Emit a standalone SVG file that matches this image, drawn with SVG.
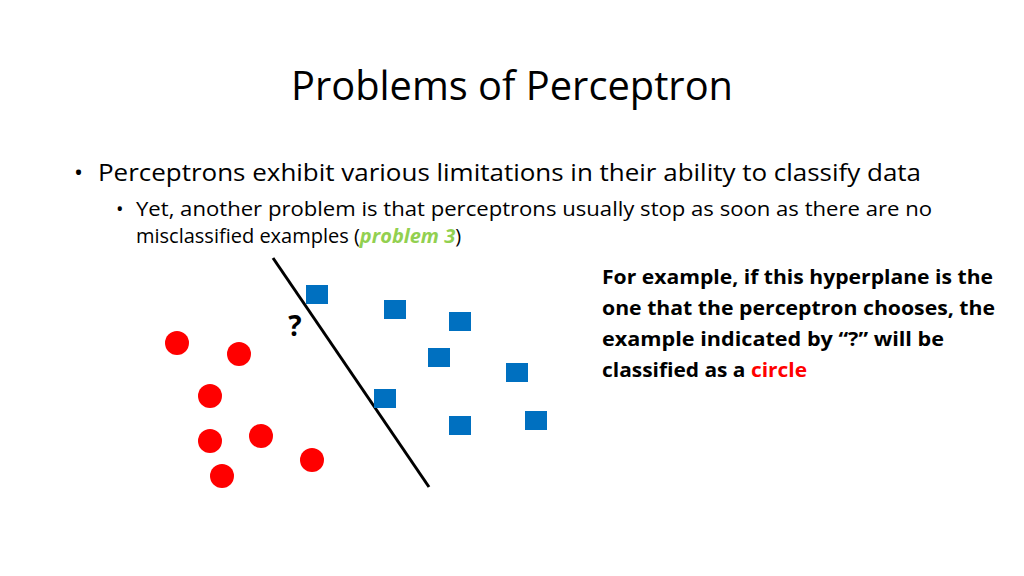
<svg xmlns="http://www.w3.org/2000/svg" width="1024" height="576" viewBox="0 0 1024 576">
<style>
text{font-family:"Open Sans","Liberation Sans",sans-serif;fill:#000}
.c{fill:#FF0000}
.s{fill:#0070C0}
.r{font-weight:bold;font-size:20px}
</style>
<rect width="1024" height="576" fill="#fff"/>
<text x="512" y="100" font-size="40" text-anchor="middle" textLength="442" lengthAdjust="spacingAndGlyphs">Problems of Perceptron</text>
<text x="74" y="181" font-size="24">•</text>
<text x="98" y="181" font-size="24" textLength="823" lengthAdjust="spacingAndGlyphs">Perceptrons exhibit various limitations in their ability to classify data</text>
<text x="116" y="216" font-size="20">•</text>
<text x="136" y="216" font-size="20" textLength="796" lengthAdjust="spacingAndGlyphs">Yet, another problem is that perceptrons usually stop as soon as there are no</text>
<text x="136" y="243" font-size="20">misclassified examples (<tspan fill="#92D050" font-weight="bold" font-style="italic">problem 3</tspan>)</text>
<g id="text-right">
<text class="r" x="602" y="284" textLength="391" lengthAdjust="spacingAndGlyphs">For example, if this hyperplane is the</text>
<text class="r" x="602" y="315" textLength="393" lengthAdjust="spacingAndGlyphs">one that the perceptron chooses, the</text>
<text class="r" x="602" y="346" textLength="342" lengthAdjust="spacingAndGlyphs">example indicated by “?” will be</text>
<text class="r" x="602" y="377" textLength="205" lengthAdjust="spacingAndGlyphs">classified as a <tspan fill="#FF0000">circle</tspan></text>
</g>
<g id="connectors"><line x1="273" y1="258" x2="429" y2="487" stroke="#000" stroke-width="3"/></g>
<g id="circles">
<circle class="c" cx="177" cy="343" r="12"/><circle class="c" cx="239" cy="354" r="12"/>
<circle class="c" cx="210" cy="396" r="12"/><circle class="c" cx="210" cy="441" r="12"/>
<circle class="c" cx="261" cy="436" r="12"/><circle class="c" cx="312" cy="460" r="12"/>
<circle class="c" cx="222" cy="476" r="12"/>
</g>
<g id="squares">
<rect class="s" x="306" y="285" width="22" height="19"/><rect class="s" x="384" y="300" width="22" height="19"/>
<rect class="s" x="449" y="312" width="22" height="19"/><rect class="s" x="428" y="348" width="22" height="19"/>
<rect class="s" x="506" y="363" width="22" height="19"/><rect class="s" x="374" y="389" width="22" height="19"/>
<rect class="s" x="449" y="416" width="22" height="19"/><rect class="s" x="525" y="411" width="22" height="19"/>
</g>
<text x="295" y="336" font-size="28" font-weight="bold" text-anchor="middle">?</text>
</svg>
